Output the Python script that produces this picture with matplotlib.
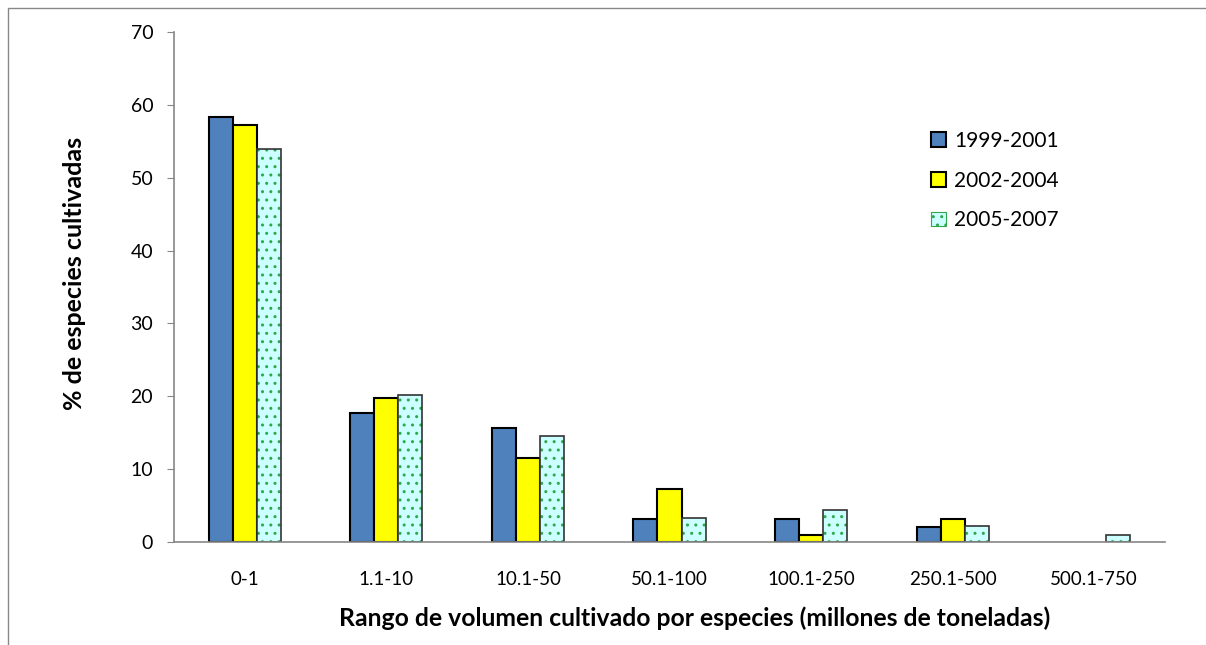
import numpy as np
import matplotlib.pyplot as plt
from matplotlib.patches import Rectangle, Patch

plt.rcParams['font.family'] = ['Lato', 'DejaVu Sans']

categorias = ['0-1', '1.1-10', '10.1-50', '50.1-100', '100.1-250', '250.1-500', '500.1-750']
serie_1999 = [58.3, 17.7, 15.6, 3.1, 3.1, 2.1, 0.0]
serie_2002 = [57.2, 19.8, 11.5, 7.3, 1.0, 3.1, 0.0]
serie_2005 = [53.9, 20.2, 14.6, 3.3, 4.4, 2.2, 1.0]
etiquetas = ['1999-2001', '2002-2004', '2005-2007']

fig = plt.figure(figsize=(12.06, 6.45), dpi=100)
ax = fig.add_axes([0.1443, 0.1597, 0.8217, 0.7907])

x = np.arange(len(categorias))
w = 0.17


def grosor(valores, lw):
    # no outline on empty bars
    return [lw if v > 0 else 0 for v in valores]


ax.bar(x - w, serie_1999, w, color='#4f81bd', edgecolor='black', linewidth=grosor(serie_1999, 1.5), zorder=3)
ax.bar(x, serie_2002, w, color='#ffff00', edgecolor='black', linewidth=grosor(serie_2002, 1.5), zorder=3)
# dotted fill for the last period, outline drawn on top
ax.bar(x + w, serie_2005, w, color='#ccffff', edgecolor='#2ea84a', hatch='..', linewidth=0, zorder=3)
ax.bar(x + w, serie_2005, w, fill=False, edgecolor='#333333', linewidth=grosor(serie_2005, 1.2), zorder=4)

ax.set_xlim(-0.5, len(categorias) - 0.5)
ax.set_ylim(0, 70)
ax.set_yticks(range(0, 71, 10))
ax.set_xticks(x)
ax.set_xticklabels(categorias)

for s in ['top', 'right']:
    ax.spines[s].set_visible(False)
for s in ['left', 'bottom']:
    ax.spines[s].set_color('#868686')
    ax.spines[s].set_linewidth(1.2)
ax.spines['bottom'].set_zorder(5)
ax.tick_params(axis='y', direction='out', length=5, color='#868686', labelsize=14, pad=10)
ax.tick_params(axis='x', length=0, labelsize=13.5, pad=21)

ax.set_ylabel('% de especies cultivadas', fontsize=18, fontweight='bold')
ax.yaxis.set_label_coords(-0.089, 0.527)
ax.set_xlabel('Rango de volumen cultivado por especies (millones de toneladas)',
              fontsize=17.8, fontweight='bold', labelpad=13)
ax.xaxis.label.set_x(0.525)

handles = [Patch(facecolor='#4f81bd', edgecolor='black', linewidth=1.5),
           Patch(facecolor='#ffff00', edgecolor='black', linewidth=1.5),
           Patch(facecolor='#ccffff', edgecolor='#2ea84a', hatch='..', linewidth=0.8)]
ax.legend(handles, etiquetas, loc='upper left', bbox_to_anchor=(0.745, 0.843),
          frameon=False, fontsize=15, handlelength=0.7, handleheight=0.7,
          labelspacing=0.95, handletextpad=0.4)

# outer frame of the chart area
fig.patches.append(Rectangle((8 / 1206, -0.05), 1.2, 1.05 - 8 / 645, transform=fig.transFigure,
                             fill=False, edgecolor='#888888', linewidth=1.0))

fig.savefig('out.png', dpi=100)
